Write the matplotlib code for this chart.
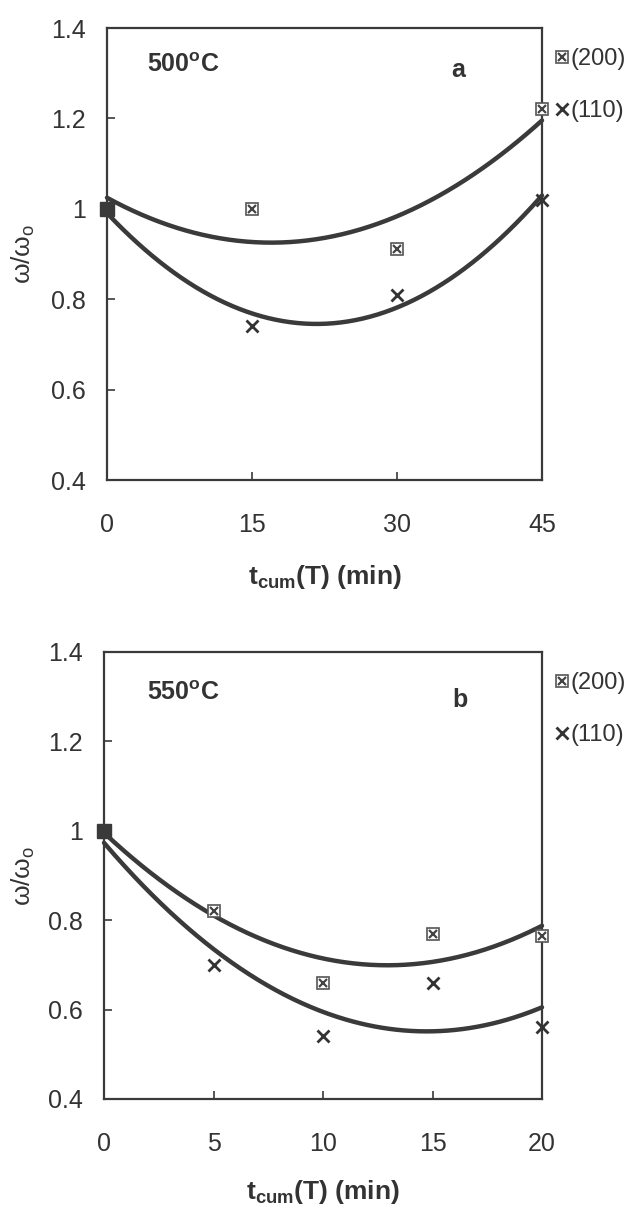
import numpy as np
import matplotlib
matplotlib.use("Agg")
import matplotlib.pyplot as plt
from matplotlib.legend_handler import HandlerTuple
from matplotlib.lines import Line2D

plt.rcParams['font.family'] = ['Liberation Sans', 'DejaVu Sans']
plt.rcParams['mathtext.fontset'] = 'custom'
plt.rcParams['mathtext.rm'] = 'Liberation Sans'
plt.rcParams['mathtext.bf'] = 'Liberation Sans:bold'

# ---------------- data ----------------
# panel a: 500 C
t_a = [0, 15, 30, 45]
w200_a = [1.00, 1.00, 0.91, 1.22]
w110_a = [1.00, 0.74, 0.81, 1.02]
xticks_a = [0, 15, 30, 45]

# panel b: 550 C
t_b = [0, 5, 10, 15, 20]
w200_b = [1.00, 0.82, 0.66, 0.77, 0.765]
w110_b = [1.00, 0.70, 0.54, 0.66, 0.56]
xticks_b = [0, 5, 10, 15, 20]

yticks = [0.4, 0.6, 0.8, 1.0, 1.2, 1.4]
ytick_labels = ['0.4', '0.6', '0.8', '1', '1.2', '1.4']

temps = ['500$^\\mathregular{o}$C', '550$^\\mathregular{o}$C']
panel_letters = ['a', 'b']
series_labels = ['(200)', '(110)']

# ---------------- style ----------------
DARK = '#3a3a3a'
TXT = '#333333'

W, H = 632, 1209
fig = plt.figure(figsize=(W / 100, H / 100), dpi=100)
fig.patch.set_facecolor('white')

ax_a = fig.add_axes([107 / W, 1 - 480 / H, 435 / W, 452 / H])
ax_b = fig.add_axes([104 / W, 1 - 1099 / H, 438 / W, 447 / H])


def draw_panel(ax, t, w200, w110, xticks, temp, letter, tp, lp):
    t = np.asarray(t, float)
    w200 = np.asarray(w200, float)
    w110 = np.asarray(w110, float)
    tt = np.linspace(t.min(), t.max(), 300)
    # quadratic trendlines through the data
    for w in (w200, w110):
        c = np.polyfit(t, w, 2)
        ax.plot(tt, np.polyval(c, tt), color=DARK, lw=3.2, solid_capstyle='round',
                zorder=3, clip_on=False)
    # (200) markers: boxed x
    ax.plot(t[1:], w200[1:], ls='none', marker='s', ms=9, mfc='white', mec='#555555',
            mew=1.2, zorder=4, clip_on=False)
    ax.plot(t[1:], w200[1:], ls='none', marker='x', ms=6, mec='#444444', mew=1.6,
            zorder=5, clip_on=False)
    # (110) markers
    ax.plot(t[1:], w110[1:], ls='none', marker='x', ms=9, mec='#333333', mew=2.0,
            zorder=5, clip_on=False)
    # initial point
    ax.plot(t[:1], w200[:1], ls='none', marker='s', ms=10, mfc=DARK, mec=DARK,
            zorder=6, clip_on=False)

    ax.set_xlim(t.min(), t.max())
    ax.set_ylim(0.4, 1.4)
    ax.set_xticks(xticks)
    ax.set_xticklabels([str(v) for v in xticks])
    ax.set_yticks(yticks)
    ax.set_yticklabels(ytick_labels)
    ax.tick_params(axis='both', direction='in', length=6, width=1.2, color=DARK,
                   labelsize=18, labelcolor=TXT)
    ax.tick_params(axis='x', pad=24)
    ax.tick_params(axis='y', pad=15)
    for s in ax.spines.values():
        s.set_linewidth(1.6)
        s.set_color(DARK)

    ax.text(tp[0], tp[1], temp, transform=ax.transAxes, fontsize=18,
            fontweight='bold', color=TXT, ha='left', va='center')
    ax.text(lp[0], lp[1], letter, transform=ax.transAxes, fontsize=18,
            fontweight='bold', color=TXT, ha='center', va='center')

    ax.set_xlabel(r't$_{\mathbf{cum}}$(T) (min)', fontsize=19, fontweight='bold',
                  color=TXT, va='center')
    ax.set_ylabel(r'ω/ω$_\mathregular{o}$', fontsize=19, color=TXT, va='center')

    h200 = (Line2D([], [], ls='none', marker='s', ms=9, mfc='white', mec='#555555', mew=1.2),
            Line2D([], [], ls='none', marker='x', ms=6, mec='#444444', mew=1.6))
    h110 = Line2D([], [], ls='none', marker='x', ms=9, mec='#333333', mew=2.0)
    leg = ax.legend([h200, h110], series_labels, loc='upper left',
                    bbox_to_anchor=(1.03, 0.955), frameon=False, fontsize=17,
                    handlelength=0.6, handletextpad=0.05, labelspacing=1.27,
                    borderaxespad=0.0, borderpad=0.0,
                    handler_map={tuple: HandlerTuple(ndivide=1, pad=0)})
    for txt in leg.get_texts():
        txt.set_color(TXT)


draw_panel(ax_a, t_a, w200_a, w110_a, xticks_a, temps[0], panel_letters[0],
           (0.092, 0.918), (0.807, 0.907))
draw_panel(ax_b, t_b, w200_b, w110_b, xticks_b, temps[1], panel_letters[1],
           (0.098, 0.908), (0.813, 0.893))

ax_a.xaxis.set_label_coords(0.5, -97 / 452)
ax_b.xaxis.set_label_coords(0.5, -93 / 447)
ax_a.yaxis.set_label_coords(-84 / 435, 0.5)
ax_b.yaxis.set_label_coords(-81 / 438, 0.5)

fig.savefig('out.png', dpi=100, facecolor='white')
